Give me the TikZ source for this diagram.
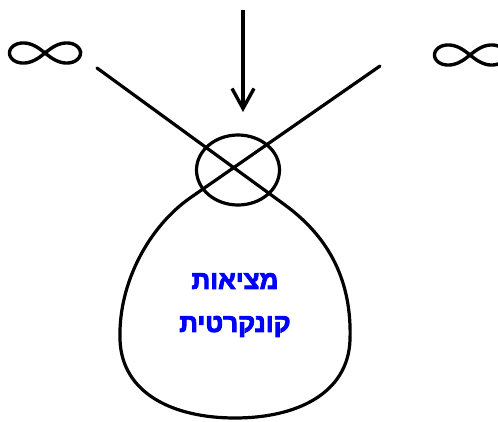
\documentclass[tikz,border=0pt]{standalone}
\usepackage{fontspec}
\newfontfamily\hebfont[Script=Hebrew]{Liberation Sans Bold}
\TeXXeTstate=1
\usepackage{tikz}
\usetikzlibrary{
  arrows.meta,
  positioning,
  shapes.geometric
}

% heavier strokes for the Hebrew label
\newcommand{\heavyR}[1]{\special{pdf:code 2 Tr 0.9 w}\beginR #1\endR\special{pdf:code 0 Tr}}

\tikzset{
  curve/.style={line width=3.2pt, line cap=round, line join=round},
  infsign/.style={line width=3.4pt},
  realtext/.style={font=\hebfont\fontsize{26}{43}\selectfont, text=blue, align=center, inner sep=0pt}
}

\begin{document}
\begin{tikzpicture}[x=1pt, y=-1pt, >={Straight Barb[length=20pt,width=22pt]}]
\useasboundingbox (0,0) rectangle (498,421);

\node[draw, ellipse, curve, inner sep=0pt, minimum width=83pt, minimum height=70pt] (meet) at (238,170) {};
\node[realtext] (real) at (235,305) {\heavyR{מציאות}\\ \heavyR{קונקרטית}};

\coordinate (infL) at (45,53);
\coordinate (infR) at (470,55);
\coordinate (endL) at (97,68);
\coordinate (endR) at (380,66);
\coordinate (arrtop) at (243,10);
\coordinate (arrtip) at (243,112);

% the two infinities
\foreach \c in {infL,infR}
  \draw[infsign, shift={(\c)}] plot[domain=0:360, samples=120, smooth cycle]
    ({35.5*cos(\x)/(1+sin(\x)^2)}, {0.8*35.5*sin(\x)*cos(\x)/(1+sin(\x)^2)});

% lines crossing through the circle and closing into the loop
\draw[curve] (endL) -- (285,205)
  .. controls (330,238) and (352,282) .. (350,340)
  .. controls (348,394) and (296,418) .. (235,418)
  .. controls (174,418) and (122,394) .. (120,340)
  .. controls (118,282) and (150,226) .. (190,198) -- (endR);

\draw[->, line width=3.4pt] (arrtop) -- (arrtip);
\end{tikzpicture}
\end{document}
